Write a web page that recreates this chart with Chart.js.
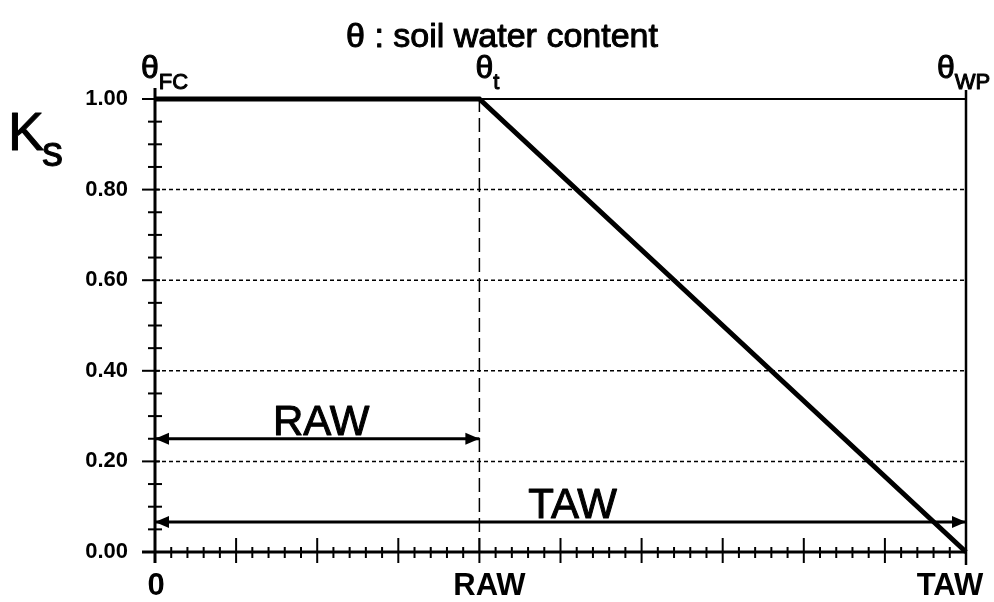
<!DOCTYPE html>
<html>
<head>
<meta charset="utf-8">
<script src="https://cdn.jsdelivr.net/npm/chart.js@4.4.1/dist/chart.umd.min.js"></script>
<style>
  html, body { margin: 0; padding: 0; background: #fff; }
</style>
</head>
<body>
<canvas id="myChart" width="994" height="602"></canvas>
<script>
// Ks-kurvan: x = uttömning (0 .. TAW = 100), y = Ks
const ksX = [0, 40, 100];
const ksY = [1, 1, 0];
// streckad linje vid RAW
const rawLineX = [40, 40];
const rawLineY = [0, 1];
// pilarna för RAW och TAW
const rawArrowX = [0, 40];
const rawArrowY = [0.25, 0.25];
const tawArrowX = [0, 100];
const tawArrowY = [0.066, 0.066];
const arrowLabels = ['RAW', 'TAW'];
const arrowLabelX = [20.5, 51.5];
// axlar
const xTickValues = [0, 40, 100];
const xTickLabels = ['0', 'RAW', 'TAW'];
const yGrid = [0.2, 0.4, 0.6, 0.8];
const thetaSubs = ['FC', 't', 'WP'];

const FONT = '"Liberation Sans", Arial, sans-serif';

function line(ctx, x1, y1, x2, y2) {
  ctx.beginPath();
  ctx.moveTo(x1, y1);
  ctx.lineTo(x2, y2);
  ctx.stroke();
}

// text med lite tjockare streck, som i originalet
function text(ctx, s, x, y) {
  ctx.fillText(s, x, y);
  ctx.strokeText(s, x, y);
}

// ram, rutnät och små streck på axlarna
const framePlugin = {
  id: 'frame',
  beforeDatasetsDraw(chart) {
    const { ctx, chartArea: a, scales: { x, y } } = chart;
    ctx.save();
    ctx.strokeStyle = '#000';

    ctx.lineWidth = 1.5;
    ctx.setLineDash([4, 3]);
    yGrid.forEach(v => {
      const py = y.getPixelForValue(v);
      line(ctx, a.left, py, a.right, py);
    });
    ctx.setLineDash([]);

    ctx.lineWidth = 2;
    for (let i = 0; i <= 20; i++) {
      const py = y.getPixelForValue(i * 0.05);
      const major = i % 4 === 0;
      line(ctx, a.left - (major ? 13 : 7), py, a.left + (major ? 5 : 7), py);
    }
    for (let i = 0; i <= 50; i++) {
      const px = x.getPixelForValue(i * 2);
      const major = i % 5 === 0;
      line(ctx, px, a.bottom - (major ? 14 : 5), px, a.bottom + (major ? 11 : 6));
    }

    // övre och högra kanten
    ctx.lineWidth = 2;
    line(ctx, a.left, a.top, a.right, a.top);
    ctx.lineWidth = 2.5;
    line(ctx, a.right, a.top - 9, a.right, a.bottom + 13);

    // axlarna
    ctx.lineWidth = 3;
    line(ctx, a.left, a.top - 11, a.left, a.bottom + 11);
    line(ctx, a.left - 13, a.bottom, a.right, a.bottom);
    ctx.restore();
  },
  afterDatasetsDraw(chart) {
    const { ctx, chartArea: a, scales: { x, y } } = chart;
    ctx.save();
    ctx.fillStyle = '#000';
    ctx.strokeStyle = '#000';

    // pilspetsar
    chart.data.datasets.forEach((ds, i) => {
      if (!ds.arrowHeads) return;
      const pts = chart.getDatasetMeta(i).data;
      const p0 = pts[0], p1 = pts[pts.length - 1];
      ctx.beginPath();
      ctx.moveTo(p0.x, p0.y);
      ctx.lineTo(p0.x + 14, p0.y - 6);
      ctx.lineTo(p0.x + 14, p0.y + 6);
      ctx.closePath();
      ctx.fill();
      ctx.beginPath();
      ctx.moveTo(p1.x, p1.y);
      ctx.lineTo(p1.x - 14, p1.y - 6);
      ctx.lineTo(p1.x - 14, p1.y + 6);
      ctx.closePath();
      ctx.fill();
    });

    ctx.lineWidth = 1;
    ctx.lineJoin = 'round';

    // titel
    ctx.textBaseline = 'alphabetic';
    ctx.textAlign = 'center';
    ctx.font = `34px ${FONT}`;
    text(ctx, 'θ : soil water content', 502, 47);

    // Ks
    ctx.textAlign = 'left';
    ctx.font = `54px ${FONT}`;
    text(ctx, 'K', 8, 150);
    const kw = ctx.measureText('K').width;
    ctx.font = `42px ${FONT}`;
    text(ctx, 's', 6 + kw, 166);

    // θ-etiketter ovanför ramen
    const thetaOff = [-14, -4, -29];
    xTickValues.forEach((v, i) => {
      const px = x.getPixelForValue(v) + thetaOff[i];
      ctx.font = `32px ${FONT}`;
      text(ctx, 'θ', px, 78);
      const tw = ctx.measureText('θ').width;
      ctx.font = `22px ${FONT}`;
      text(ctx, thetaSubs[i], px + tw, 89);
    });

    // RAW / TAW vid pilarna
    ctx.textAlign = 'center';
    ctx.font = `42px ${FONT}`;
    const arrowY = [rawArrowY[0], tawArrowY[0]];
    arrowLabels.forEach((t, i) => {
      text(ctx, t, x.getPixelForValue(arrowLabelX[i]), y.getPixelForValue(arrowY[i]) - 4);
    });

    // x-axelns etiketter
    const labOff = [1, 10, -16];
    ctx.font = `bold 31px ${FONT}`;
    xTickValues.forEach((v, i) => {
      ctx.fillText(xTickLabels[i], x.getPixelForValue(v) + labOff[i], a.bottom + 43);
    });
    ctx.restore();
  }
};

function pts(xs, ys) {
  return xs.map((v, i) => ({ x: v, y: ys[i] }));
}

const ctx = document.getElementById('myChart').getContext('2d');
new Chart(ctx, {
  type: 'scatter',
  data: {
    datasets: [
      { data: pts(rawLineX, rawLineY), showLine: true, borderColor: '#000', borderWidth: 1.5, borderDash: [14, 6], pointRadius: 0, clip: false },
      { data: pts(rawArrowX, rawArrowY), showLine: true, borderColor: '#000', borderWidth: 3, pointRadius: 0, clip: false, arrowHeads: true },
      { data: pts(tawArrowX, tawArrowY), showLine: true, borderColor: '#000', borderWidth: 3, pointRadius: 0, clip: false, arrowHeads: true },
      { data: pts(ksX, ksY), showLine: true, borderColor: '#000', borderWidth: 5, pointRadius: 0, clip: false }
    ]
  },
  options: {
    responsive: false,
    animation: false,
    devicePixelRatio: 1,
    layout: { padding: { top: 99, right: 28, bottom: 50, left: 0 } },
    plugins: { legend: { display: false }, tooltip: { enabled: false } },
    scales: {
      x: { type: 'linear', min: 0, max: 100, display: false },
      y: {
        type: 'linear', min: 0, max: 1,
        grid: { display: false, drawTicks: false },
        border: { display: false },
        ticks: {
          stepSize: 0.2,
          padding: 27,
          color: '#000',
          font: { family: FONT, size: 22, weight: 'bold' },
          callback: v => v.toFixed(2)
        },
        afterFit: scale => { scale.width = 155; }
      }
    }
  },
  plugins: [framePlugin]
});
</script>
</body>
</html>
